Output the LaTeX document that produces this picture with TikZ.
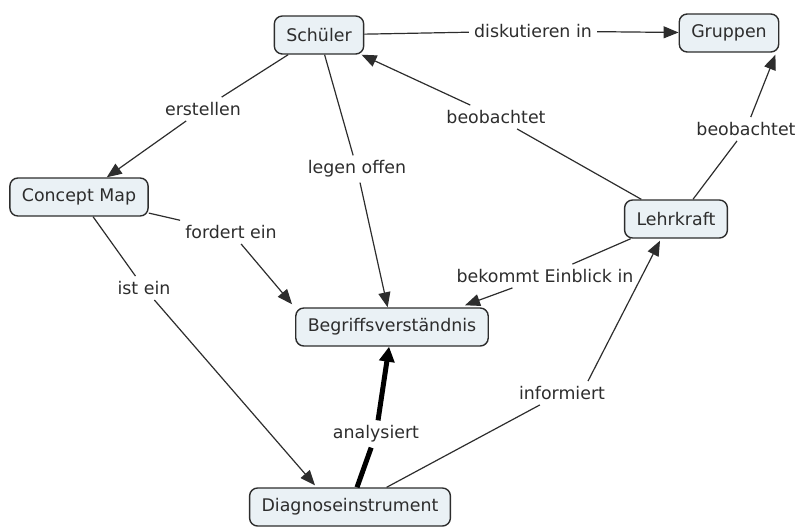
\documentclass[tikz,border=0pt]{standalone}
\usepackage{fontspec}
\setmainfont{DejaVu Sans}
\usetikzlibrary{arrows.meta}
\definecolor{nodefill}{RGB}{234,241,245}
\definecolor{ink}{RGB}{45,45,45}
\begin{document}
\begin{tikzpicture}[x=1pt,y=-1pt,
  concept/.style={draw=ink, line width=1.4pt, rounded corners=8pt, fill=nodefill,
    minimum height=38pt, inner xsep=12pt, font=\fontsize{17.4}{20}\selectfont, text=ink},
  lbl/.style={inner sep=5pt, font=\fontsize{17.4}{20}\selectfont, text=ink},
  link/.style={draw=ink, line width=1.2pt},
  arr/.style={link, -{Triangle[length=15pt,width=12pt]}},
  thicklink/.style={draw=black, line width=5pt},
  thickarr/.style={thicklink, -{Triangle[length=15pt,width=15pt]}}
]
\useasboundingbox (0,0) rectangle (798,528);

\node[concept] (schueler) at (319,35) {Schüler};
\node[concept] (gruppen) at (729,33) {Gruppen};
\node[concept] (cmap) at (79,197) {Concept Map};
\node[concept] (lehrkraft) at (676,219) {Lehrkraft};
\node[concept] (begriff) at (392,327) {Begriffsverständnis};
\node[concept] (diag) at (350,507) {Diagnoseinstrument};

\node[lbl] (l1) at (533,31) {diskutieren in};
\node[lbl] (l2) at (203,109) {erstellen};
\node[lbl] (l3) at (357,169) {legen offen};
\node[lbl] (l4) at (496,117) {beobachtet};
\node[lbl] (l5) at (746,129) {beobachtet};
\node[lbl] (l6) at (231,232) {fordert ein};
\node[lbl] (l7) at (144,288) {ist ein};
\node[lbl] (l8) at (545,276) {bekommt Einblick in};
\node[lbl] (l9) at (562,393) {informiert};
\node[lbl] (l10) at (376,434) {analysiert};

\draw[link] (schueler) -- (l1);
\draw[arr] (l1) -- (gruppen);
\draw[link] (schueler) -- (l2);
\draw[arr] (l2) -- (cmap);
\draw[link] (schueler) -- (l3);
\draw[arr] (l3) -- (begriff);
\draw[link] (lehrkraft) -- (l4);
\draw[arr] (l4) -- (schueler);
\draw[link] ([xshift=17pt]lehrkraft.north) -- (l5);
\draw[arr] (l5) -- ([xshift=-4pt,yshift=-2pt]gruppen.south east);
\draw[link] (cmap) -- (l6);
\draw[arr] (l6) -- ([xshift=-3pt,yshift=3pt]begriff.north west);
\draw[link] (cmap) -- (l7);
\draw[arr] (l7) -- ([xshift=-35pt,yshift=2pt]diag.north);
\draw[link] (lehrkraft) -- (l8);
\draw[arr] (l8) -- ([xshift=73pt,yshift=2pt]begriff.north);
\draw[link] (diag) -- (l9);
\draw[arr] ([xshift=26pt]l9.north) -- ([xshift=-16pt,yshift=-2pt]lehrkraft.south);
\draw[thicklink] (diag) -- (l10);
\draw[thickarr] (l10) -- (begriff);
\end{tikzpicture}
\end{document}
